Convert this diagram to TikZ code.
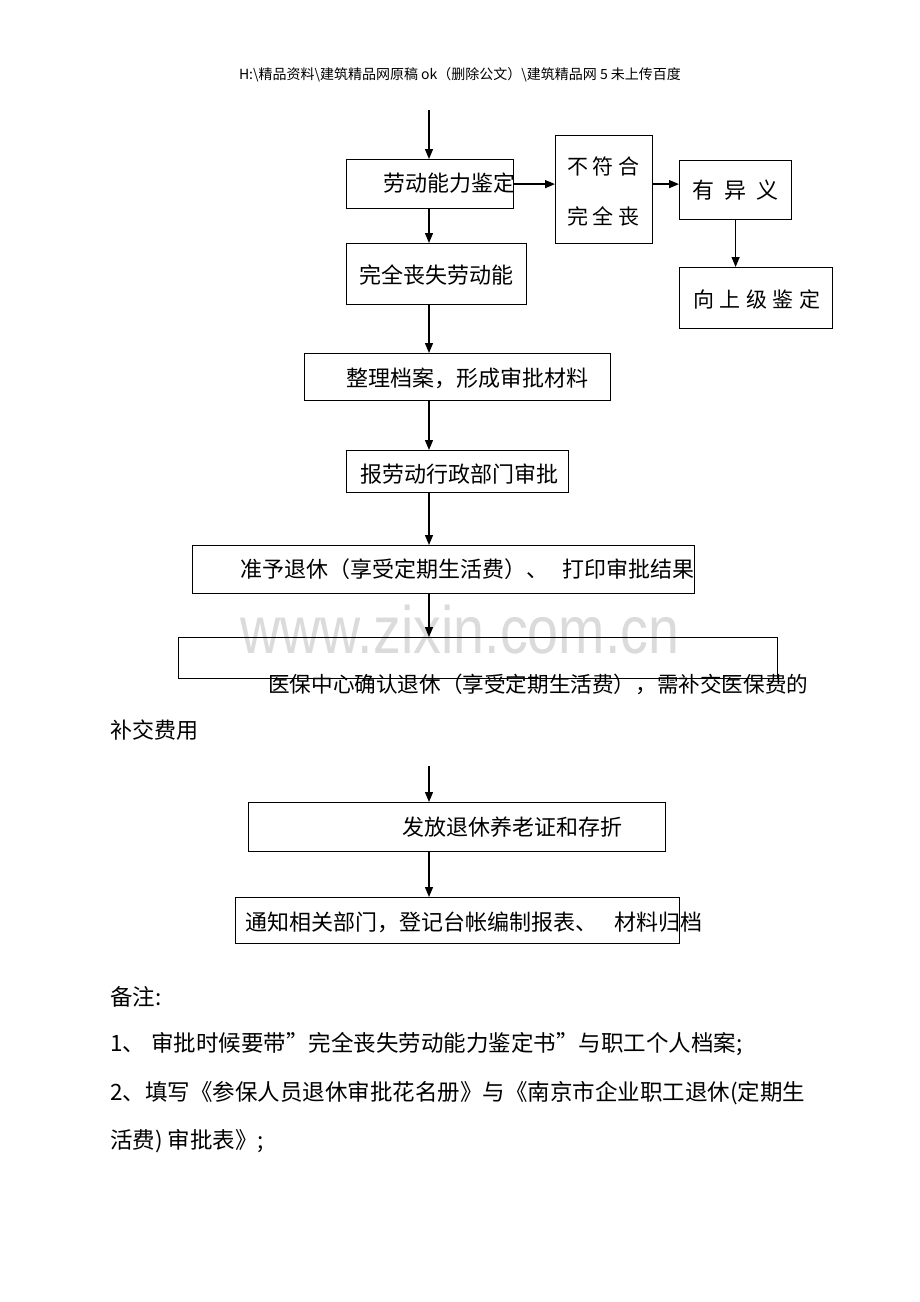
\documentclass[tikz,border=0pt]{standalone}
\usepackage{fontspec}
\setmainfont{Noto Sans CJK SC}
\newfontfamily\wmfont{Liberation Sans}
\usetikzlibrary{arrows.meta,positioning,calc}

\begin{document}
\begin{tikzpicture}[x=1pt,y=-1pt,>={Triangle[length=10pt,width=8pt]},
    box/.style={draw,line width=1.2pt,anchor=north west,inner sep=0pt},
    txt/.style={anchor=west,inner sep=0pt,text height=19pt,text depth=3pt,font=\fontsize{22}{26}\selectfont},
    small/.style={font=\fontsize{21}{25}\selectfont},
    note/.style={font=\fontsize{22.5}{27}\selectfont},
    flow/.style={->,line width=1.3pt}]
    \fill[white] (0,0) rectangle (920,1302);
    \useasboundingbox (0,0) rectangle (920,1302);

    % watermark
    \node[anchor=base,inner sep=0pt,text=black!14,font=\wmfont\fontsize{67}{70}\selectfont] (wm) at (460,653) {\scalebox{0.83}[1]{www.zixin.com.cn}};

    % header
    \node[inner sep=0pt,font=\fontsize{14}{16}\selectfont] (header) at (460,75) {H:\textbackslash 精品资料\textbackslash 建筑精品网原稿 ok（删除公文）\textbackslash 建筑精品网 5 未上传百度};

    \coordinate (spine) at (429,0);
    \coordinate (start) at (429,110);
    \coordinate (restart) at (429,766);

    % boxes
    \node[box,minimum width=167pt,minimum height=49pt] (jianding) at (346,159) {};
    \node[txt] (jianding-t) at (383,183) {劳动能力鉴定};
    \node[box,minimum width=97pt,minimum height=108pt] (buhe) at (555,135) {};
    \node[txt,small] (buhe-t1) at (567,166) {不 符 合};
    \node[txt,small] (buhe-t2) at (567,216) {完 全 丧};
    \node[box,minimum width=112pt,minimum height=59pt] (yiyi) at (679,160) {};
    \node[txt] (yiyi-t) at (692,190) {有\hspace{10pt}异\hspace{10pt}义};
    \node[box,minimum width=153pt,minimum height=61pt] (shangji) at (679,267) {};
    \node[txt,small] (shangji-t) at (693,299) {向\hspace{5.5pt}上\hspace{5.5pt}级\hspace{5.5pt}鉴\hspace{5.5pt}定};
    \node[box,minimum width=180pt,minimum height=61pt] (sangshi) at (346,243) {};
    \node[txt] (sangshi-t) at (359,275) {完全丧失劳动能};
    \node[box,minimum width=306pt,minimum height=47pt] (dangan) at (304,353) {};
    \node[txt] (dangan-t) at (346,378) {整理档案，形成审批材料};
    \node[box,minimum width=222pt,minimum height=42pt] (baopi) at (346,450) {};
    \node[txt] (baopi-t) at (360,474) {报劳动行政部门审批};
    \node[box,minimum width=502pt,minimum height=48pt] (zhunyu) at (192,545) {};
    \node[txt] (zhunyu-t) at (240,569) {准予退休（享受定期生活费）、\hspace{14pt}打印审批结果};
    \node[box,minimum width=599pt,minimum height=41pt] (yibao) at (178,637) {};
    \node[txt,font=\fontsize{21.6}{26}\selectfont] (yibao-t1) at (268,684) {医保中心确认退休（享受定期生活费），需补交医保费的};
    \node[txt] (yibao-t2) at (110,730) {补交费用};
    \node[box,minimum width=417pt,minimum height=49pt] (fafang) at (248,802) {};
    \node[txt] (fafang-t) at (402,827) {发放退休养老证和存折};
    \node[box,minimum width=444pt,minimum height=46pt] (tongzhi) at (235,897) {};
    \node[txt] (tongzhi-t) at (245,922) {通知相关部门，登记台帐编制报表、\hspace{17pt}材料归档};

    % notes
    \node[txt,note] (beizhu) at (110,997) {备注:};
    \node[txt,note] (note1) at (110,1043) {1、\hspace{6pt}审批时候要带”完全丧失劳动能力鉴定书”与职工个人档案;};
    \node[txt,note] (note2) at (110,1092) {2、填写《参保人员退休审批花名册》与《南京市企业职工退休(定期生};
    \node[txt,note] (note3) at (110,1140) {活费) 审批表》;};

    % arrows
    \draw[flow] (start) -- (jianding.north -| spine);
    \draw[flow] (jianding.east) -- (buhe.west |- jianding.east);
    \draw[flow] (buhe.east |- jianding.east) -- (yiyi.west |- jianding.east);
    \draw[flow] (yiyi.south) -- (shangji.north -| yiyi.south);
    \draw[flow] (jianding.south -| spine) -- (sangshi.north -| spine);
    \draw[flow] (sangshi.south -| spine) -- (dangan.north -| spine);
    \draw[flow] (dangan.south -| spine) -- (baopi.north -| spine);
    \draw[flow] (baopi.south -| spine) -- (zhunyu.north -| spine);
    \draw[flow] (zhunyu.south -| spine) -- (yibao.north -| spine);
    \draw[flow] (restart) -- (fafang.north -| spine);
    \draw[flow] (fafang.south -| spine) -- (tongzhi.north -| spine);
\end{tikzpicture}
\end{document}
